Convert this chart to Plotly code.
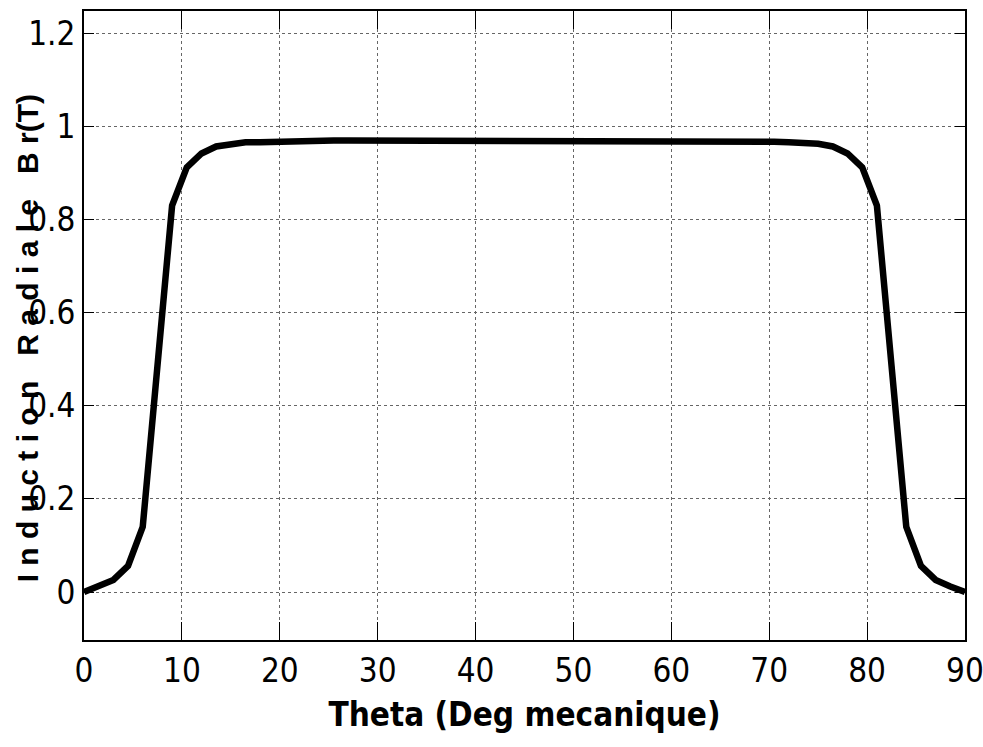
import plotly.graph_objects as go

# Radial flux density under one pole, sampled every 1.5 mechanical degrees
theta = [0, 1.5, 3, 4.5, 6, 7.5, 9, 10.5, 12, 13.5, 15, 16.5, 18, 19.5,
         21, 22.5, 24, 25.5, 27, 28.5, 30, 31.5, 33, 34.5, 36, 37.5, 39,
         40.5, 42, 43.5, 45, 46.5, 48, 49.5, 51, 52.5, 54, 55.5, 57, 58.5,
         60, 61.5, 63, 64.5, 66, 67.5, 69, 70.5, 72, 73.5, 75, 76.5, 78,
         79.5, 81, 82.5, 84, 85.5, 87, 88.5, 90]
br = [0.0, 0.012, 0.026, 0.056, 0.14, 0.485, 0.83, 0.912, 0.942, 0.957,
      0.963, 0.966, 0.966, 0.967,
      0.97, 0.97, 0.97, 0.97, 0.97, 0.97, 0.97, 0.97, 0.97, 0.97, 0.97,
      0.97, 0.97, 0.97, 0.97, 0.97, 0.97, 0.97, 0.97, 0.97, 0.97, 0.97,
      0.97, 0.97, 0.97, 0.97, 0.97, 0.97, 0.97, 0.97, 0.97, 0.97, 0.97,
      0.967, 0.966, 0.966, 0.963, 0.957, 0.942, 0.912, 0.83, 0.485, 0.14,
      0.056, 0.026, 0.012, 0.0]

x_ticks = [0, 10, 20, 30, 40, 50, 60, 70, 80, 90]
y_ticks = [0, 0.2, 0.4, 0.6, 0.8, 1, 1.2]
y_tick_text = ["0", "0.2", "0.4", "0.6", "0.8", "1", "1.2"]

narrow = "DejaVu Sans Condensed, Liberation Sans Narrow, Arial Narrow"
tick_font = dict(family=narrow, size=33, color="black")

fig = go.Figure()
fig.add_trace(go.Scatter(x=theta, y=br, mode="lines",
                         line=dict(color="black", width=6.5),
                         showlegend=False))

fig.update_xaxes(range=[0, 90], tickvals=x_ticks, automargin=False,
                 showline=True, linecolor="black", linewidth=2, mirror="ticks",
                 ticks="inside", ticklen=18, tickwidth=1.2, tickcolor="black",
                 showgrid=True, gridcolor="#666", griddash="dot", gridwidth=1,
                 zeroline=False, tickfont=tick_font, ticklabeloverflow="allow",
                 title=dict(text="<b>Theta (Deg mecanique)</b>",
                            font=dict(family=narrow, size=33, color="black"),
                            standoff=14))
fig.update_yaxes(range=[-0.103, 1.248], tickvals=y_ticks, ticktext=y_tick_text,
                 automargin=False,
                 showline=True, linecolor="black", linewidth=2, mirror="ticks",
                 ticks="inside", ticklen=10, tickwidth=1.2, tickcolor="black",
                 showgrid=True, gridcolor="#666", griddash="dot", gridwidth=1,
                 zeroline=False, tickfont=tick_font, ticklabelstandoff=0)

fig.add_annotation(text="<b>I n d u c t i o n   R a d i a l e   B r(T)</b>",
                   xref="paper", yref="paper", x=-0.064, y=0.479,
                   xanchor="center", yanchor="middle", textangle=-90,
                   showarrow=False,
                   font=dict(family="Liberation Sans, Arial", size=30, color="black"))

fig.update_layout(width=983, height=747,
                  margin=dict(l=84, r=18, t=11, b=107),
                  plot_bgcolor="white", paper_bgcolor="white")

fig.write_html("out.html")
